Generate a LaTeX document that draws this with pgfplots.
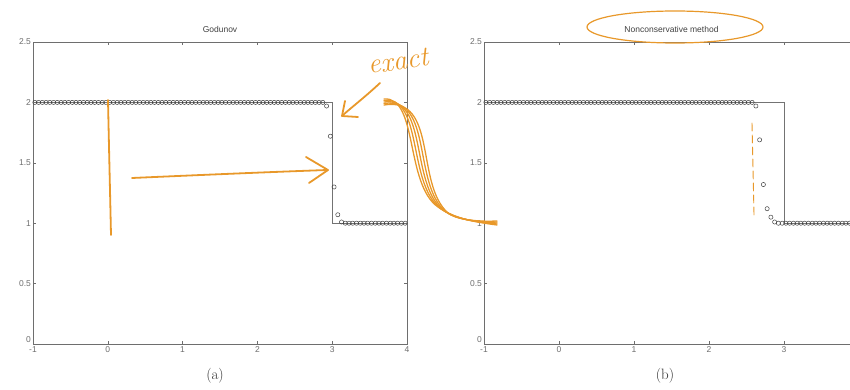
\documentclass[border=0pt]{standalone}
\usepackage{pgfplots}
\pgfplotsset{compat=1.18}
\usepackage{fontspec}
\newfontfamily\sansf{Liberation Sans}
\definecolor{annot}{RGB}{232,152,42}
\definecolor{axgray}{RGB}{110,110,110}
\pgfplotsset{
  myax/.style={
    scale only axis, width=374pt, height=302pt,
    xmin=-1, xmax=4, ymin=0, ymax=2.5,
    xtick={-1,0,1,2,3,4}, ytick={0.5,1,1.5,2,2.5},
    extra y ticks={0}, extra y tick style={yticklabel style={yshift=4pt}},
    tick align=inside, major tick length=3pt,
    axis line style={axgray, line width=0.7pt},
    every tick/.style={axgray, line width=0.6pt},
    /pgf/number format/assume math mode=true,
    ticklabel style={font=\sansf\fontsize{8.5}{9}\selectfont, text=axgray},
    xticklabel style={yshift=1pt},
    yticklabel style={xshift=1.5pt},
    title style={font=\sansf\fontsize{8.5}{9}\selectfont, text=black!75, yshift=0pt},
    clip=false,
  },
  circ/.style={only marks, mark=o, mark size=2.1pt, mark options={draw=black!75, line width=0.5pt}},
}
\begin{document}
\begin{tikzpicture}[x=1pt,y=1pt]
\begin{axis}[myax, at={(33pt,45pt)}, anchor=south west, title={Godunov}]
\addplot[black!55, line width=0.6pt] coordinates {(-1,2)(3,2)(3,1)(4,1)};
\addplot[circ] coordinates {
(-0.975,2)(-0.925,2)(-0.875,2)(-0.825,2)(-0.775,2)(-0.725,2)(-0.675,2)(-0.625,2)(-0.575,2)(-0.525,2)
(-0.475,2)(-0.425,2)(-0.375,2)(-0.325,2)(-0.275,2)(-0.225,2)(-0.175,2)(-0.125,2)(-0.075,2)(-0.025,2)
(0.025,2)(0.075,2)(0.125,2)(0.175,2)(0.225,2)(0.275,2)(0.325,2)(0.375,2)(0.425,2)(0.475,2)
(0.525,2)(0.575,2)(0.625,2)(0.675,2)(0.725,2)(0.775,2)(0.825,2)(0.875,2)(0.925,2)(0.975,2)
(1.025,2)(1.075,2)(1.125,2)(1.175,2)(1.225,2)(1.275,2)(1.325,2)(1.375,2)(1.425,2)(1.475,2)
(1.525,2)(1.575,2)(1.625,2)(1.675,2)(1.725,2)(1.775,2)(1.825,2)(1.875,2)(1.925,2)(1.975,2)
(2.025,2)(2.075,2)(2.125,2)(2.175,2)(2.225,2)(2.275,2)(2.325,2)(2.375,2)(2.425,2)(2.475,2)
(2.525,2)(2.575,2)(2.625,2)(2.675,2)(2.725,2)(2.775,2)(2.825,2)(2.875,2)(2.925,1.97)(2.975,1.72)
(3.025,1.30)(3.075,1.07)(3.125,1.01)(3.175,1)(3.225,1)(3.275,1)(3.325,1)(3.375,1)(3.425,1)(3.475,1)
(3.525,1)(3.575,1)(3.625,1)(3.675,1)(3.725,1)(3.775,1)(3.825,1)(3.875,1)(3.925,1)(3.975,1)
};
\end{axis}
\begin{axis}[myax, at={(484pt,45pt)}, anchor=south west, width=375pt, title={Nonconservative method},
  xtick={-1,0,1,2,3,4}, xticklabels={-1,0,1,2,3,{}}]
\addplot[black!55, line width=0.6pt] coordinates {(-1,2)(3,2)(3,1)(4,1)};
\addplot[circ] coordinates {
(-0.975,2)(-0.925,2)(-0.875,2)(-0.825,2)(-0.775,2)(-0.725,2)(-0.675,2)(-0.625,2)(-0.575,2)(-0.525,2)
(-0.475,2)(-0.425,2)(-0.375,2)(-0.325,2)(-0.275,2)(-0.225,2)(-0.175,2)(-0.125,2)(-0.075,2)(-0.025,2)
(0.025,2)(0.075,2)(0.125,2)(0.175,2)(0.225,2)(0.275,2)(0.325,2)(0.375,2)(0.425,2)(0.475,2)
(0.525,2)(0.575,2)(0.625,2)(0.675,2)(0.725,2)(0.775,2)(0.825,2)(0.875,2)(0.925,2)(0.975,2)
(1.025,2)(1.075,2)(1.125,2)(1.175,2)(1.225,2)(1.275,2)(1.325,2)(1.375,2)(1.425,2)(1.475,2)
(1.525,2)(1.575,2)(1.625,2)(1.675,2)(1.725,2)(1.775,2)(1.825,2)(1.875,2)(1.925,2)(1.975,2)
(2.025,2)(2.075,2)(2.125,2)(2.175,2)(2.225,2)(2.275,2)(2.325,2)(2.375,2)(2.425,2)(2.475,2)
(2.525,2)(2.575,2)(2.625,1.97)(2.675,1.69)(2.725,1.32)(2.775,1.12)(2.825,1.05)(2.875,1.01)(2.925,1)(2.975,1)
(3.025,1)(3.075,1)(3.125,1)(3.175,1)(3.225,1)(3.275,1)(3.325,1)(3.375,1)(3.425,1)(3.475,1)
(3.525,1)(3.575,1)(3.625,1)(3.675,1)(3.725,1)(3.775,1)(3.825,1)(3.875,1)(3.925,1)(3.975,1)
};
\end{axis}
% captions
\node[font=\fontsize{15}{16}\selectfont, text=black!80] at (215,13) {(a)};
\node[font=\fontsize{15}{16}\selectfont, text=black!80] at (665,13) {(b)};
% orange annotations
\begin{scope}[annot, line width=1.8pt, line cap=round, line join=round]
\draw (108,289) .. controls (109,240) and (110,200) .. (111,154);
\draw (132,211) .. controls (200,214) and (270,217) .. (327,219);
\draw (306,232) -- (328,219) -- (309,206);
\draw (380,306) .. controls (365,292) and (352,282) .. (343,274);
\draw (345,288) -- (342,273) -- (358,272);
\node[font=\itshape\fontsize{28}{30}\selectfont, rotate=8] at (398,328) {exact};
\foreach \d in {0,5,10,15,20} {
  \draw[line width=1.3pt] (384,290-\d*0.3) .. controls (418+\d,293) and (405+\d*0.5,205) .. (438+\d*0.5,182-\d*0.3) .. controls (455,170) and (475,167) .. (497,164+\d*0.2);
}
\draw[line width=1.2pt] (675,362) ellipse (88pt and 16pt);
\draw[line width=0.9pt, dash pattern=on 8pt off 4pt] (752,266) -- (754,174);
\end{scope}
\pgfresetboundingbox
\useasboundingbox (0,0) rectangle (850,389);
\end{tikzpicture}
\end{document}
